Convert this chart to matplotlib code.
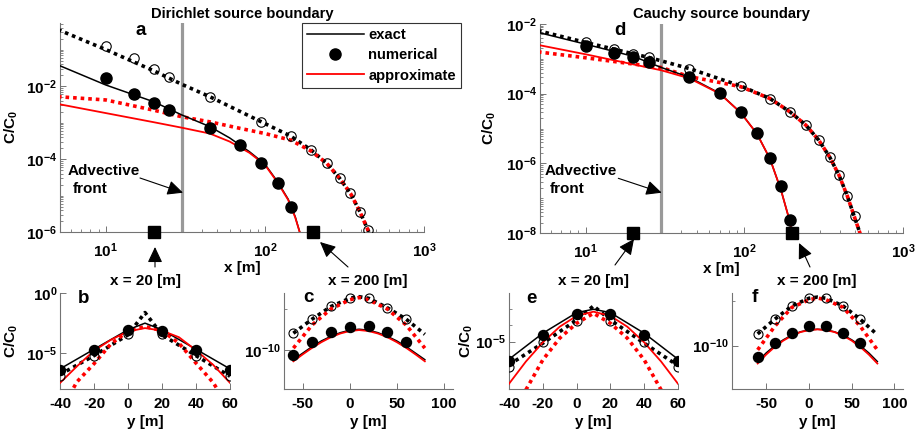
import matplotlib
matplotlib.use("Agg")
import matplotlib.pyplot as plt
import numpy as np
from matplotlib.lines import Line2D
from matplotlib.patches import FancyArrowPatch
from matplotlib.ticker import (FixedLocator, FuncFormatter, LogLocator,
                               NullFormatter, NullLocator)

plt.rcParams['font.family'] = ['Liberation Sans', 'DejaVu Sans']
plt.rcParams['font.weight'] = 'bold'
plt.rcParams['font.size'] = 11
plt.rcParams['axes.labelweight'] = 'bold'
plt.rcParams['axes.unicode_minus'] = False
plt.rcParams['mathtext.fontset'] = 'custom'
plt.rcParams['mathtext.rm'] = 'Liberation Sans:bold'
plt.rcParams['mathtext.bf'] = 'Liberation Sans:bold'
plt.rcParams['mathtext.it'] = 'Liberation Sans:bold'

# ---- data (concentrations stored as log10 values) ----
# panel a: Dirichlet source, along x
a_x_line = [5, 10, 20, 30, 45, 60, 80, 100, 120, 140, 155, 168]
a_exact = [-1.42, -1.97, -2.43, -2.79, -3.11, -3.42, -3.80, -4.14, -4.62, -5.10, -5.58, -6.10]
a_approx = [-2.49, -2.74, -2.99, -3.14, -3.30, -3.52, -3.83, -4.16, -4.64, -5.12, -5.60, -6.10]
a_x_dot = [5, 10, 20, 30, 45, 95, 145, 195, 245, 295, 345, 395, 450]
a_exact_dot = [-0.45, -1.00, -1.58, -1.95, -2.29, -2.98, -3.37, -3.75, -4.12, -4.53, -4.94, -5.44, -6.00]
a_x_rdot = [5, 10, 20, 30, 45, 70, 100, 145, 195, 245, 295, 345, 395, 450]
a_approx_dot = [-2.29, -2.38, -2.66, -2.84, -2.98, -3.16, -3.30, -3.48, -3.78, -4.12, -4.53, -4.94, -5.44, -6.00]
a_x_num = [10, 15, 20, 25, 45, 70, 95, 120, 145]
a_num = [-1.77, -2.22, -2.47, -2.66, -3.16, -3.62, -4.12, -4.67, -5.32]
a_x_num_o = [10, 15, 20, 25, 45, 95, 145, 195, 245, 295, 345, 395, 445]
a_num_o = [-0.90, -1.24, -1.53, -1.75, -2.29, -2.98, -3.37, -3.75, -4.12, -4.53, -4.94, -5.44, -5.95]

# panel d: Cauchy source, along x
d_x_line = [5, 10, 20, 30, 45, 70, 95, 120, 145, 170, 190, 200]
d_exact = [-2.24, -2.58, -2.93, -3.25, -3.53, -3.99, -4.55, -5.15, -5.87, -6.76, -7.54, -8.00]
d_approx = [-2.60, -2.87, -3.16, -3.33, -3.56, -4.00, -4.55, -5.15, -5.87, -6.76, -7.54, -8.00]
d_x_dot = [5, 10, 15, 20, 25, 45, 95, 145, 195, 245, 295, 345, 395, 445, 495, 540]
d_exact_dot = [-2.19, -2.53, -2.72, -2.86, -2.96, -3.28, -3.78, -4.14, -4.53, -4.91, -5.34, -5.82, -6.34, -6.93, -7.55, -8.05]
d_x_rdot = [5, 10, 20, 30, 45, 70, 95, 145, 195, 245, 295, 345, 395, 445, 495, 540]
d_approx_dot = [-2.80, -2.97, -3.15, -3.25, -3.51, -3.68, -3.80, -4.14, -4.53, -4.91, -5.34, -5.82, -6.34, -6.93, -7.55, -8.05]
d_x_num = [10, 15, 20, 25, 45, 70, 95, 120, 145, 170, 195]
d_num = [-2.62, -2.82, -2.96, -3.08, -3.51, -3.99, -4.52, -5.12, -5.84, -6.66, -7.62]
d_x_num_o = [10, 15, 20, 25, 45, 95, 145, 195, 245, 295, 345, 395, 445, 495]
d_num_o = [-2.53, -2.72, -2.86, -2.96, -3.28, -3.78, -4.14, -4.53, -4.91, -5.34, -5.82, -6.34, -6.93, -7.52]

# panels b, e: transverse profiles at x = 20 m
y_near = [-40, -20, 0, 10, 20, 40, 60]
y_near_s = [-40, -30, -20, -10, 0, 10, 20, 30, 40, 50, 60]
y_near_num = [-40, -20, 0, 20, 40, 60]
y_near_rdot = [-32, -30, -20, -10, 0, 10, 20, 30, 40, 50, 52]
b_exact = [-6.33, -4.70, -3.08, -2.53, -3.08, -4.70, -6.33]
b_exact_dot = [-6.80, -5.23, -3.50, -1.65, -3.50, -5.23, -6.94]
b_approx = [-7.50, -6.11, -4.82, -3.91, -3.22, -2.94, -3.15, -3.70, -4.78, -5.98, -7.49]
b_approx_dot = [-7.90, -7.40, -5.90, -4.25, -3.20, -2.81, -3.15, -4.20, -5.85, -7.45, -7.90]
b_num = [-6.39, -4.79, -3.08, -3.22, -4.79, -6.39]
b_num_o = [-6.94, -5.29, -3.41, -3.41, -5.29, -6.94]

y_near_rdot_e = [-30, -20, -10, 0, 10, 20, 30, 40, 50]
e_exact = [-6.08, -4.49, -3.23, -3.02, -3.23, -4.49, -6.08]
e_exact_dot = [-6.42, -5.10, -3.68, -2.82, -3.68, -5.10, -6.47]
e_approx = [-7.58, -6.22, -5.05, -4.09, -3.43, -3.17, -3.43, -4.09, -5.05, -6.22, -7.58]
e_approx_dot = [-7.95, -6.12, -4.79, -3.88, -3.27, -3.88, -4.79, -6.12, -7.95]
e_num = [-6.16, -4.59, -3.31, -3.31, -4.59, -6.16]
e_num_o = [-6.56, -5.00, -3.72, -3.72, -5.00, -6.56]

# panels c, f: transverse profiles at x = 200 m
y_far = [-60, -50, -40, -30, -20, -10, 0, 10, 20, 30, 40, 50, 60, 70, 80]
y_far_dot = [-60, -40, -20, 0, 10, 20, 40, 60, 80]
y_far_num = [-60, -40, -20, 0, 20, 40, 60]
c_exact = [-11.20, -10.40, -9.60, -8.90, -8.35, -7.90, -7.60, -7.48, -7.60, -7.90, -8.35, -8.90, -9.60, -10.40, -11.20]
c_approx = [-11.40, -10.55, -9.75, -9.05, -8.45, -8.00, -7.70, -7.58, -7.70, -8.00, -8.45, -9.05, -9.75, -10.55, -11.40]
c_exact_dot = [-7.97, -6.24, -4.70, -3.69, -3.50, -3.69, -4.85, -6.24, -8.10]
c_approx_dot = [-9.79, -6.95, -5.00, -3.88, -3.60, -3.88, -5.00, -6.95, -9.79]
c_num = [-10.61, -8.99, -7.77, -7.16, -7.07, -7.77, -8.99]
c_num_o = [-7.97, -6.26, -4.63, -3.69, -3.69, -4.91, -6.22]

f_exact = [-11.78, -10.82, -10.02, -9.36, -8.84, -8.47, -8.25, -8.18, -8.25, -8.47, -8.84, -9.36, -10.02, -10.82, -11.78]
f_approx = [-12.00, -11.00, -10.15, -9.45, -8.90, -8.50, -8.28, -8.20, -8.28, -8.50, -8.90, -9.45, -10.15, -11.00, -12.00]
f_exact_dot = [-8.70, -7.07, -5.59, -4.73, -4.60, -4.73, -5.59, -7.07, -8.80]
f_approx_dot = [-10.48, -7.85, -5.75, -4.90, -4.70, -4.90, -5.75, -7.85, -10.48]
f_num = [-11.29, -9.73, -8.56, -7.81, -7.81, -8.56, -9.73]
f_num_o = [-8.70, -7.07, -5.59, -4.73, -4.73, -5.59, -7.07]

front_x = 30
profile_x = [20, 200]

W, H = 921, 434
GREY = '0.45'
YLABEL = r'C/C$_\mathbf{0}$'
FS = 11


def rect(l, t, r, b):
    return [l / W, 1 - b / H, (r - l) / W, (b - t) / H]


def fxy(x, y):
    return (x / W, 1 - y / H)


def p10(v):
    return 10.0 ** np.asarray(v)


def pow_label(v, pos):
    return r'$\mathbf{10^{%d}}$' % int(round(np.log10(v)))


def style_axes(ax):
    for s in ['top', 'right']:
        ax.spines[s].set_visible(False)
    for s in ['left', 'bottom']:
        ax.spines[s].set_color(GREY)
        ax.spines[s].set_linewidth(0.8)
    ax.tick_params(which='both', direction='in', colors=GREY,
                   labelcolor='k', labelsize=FS)
    ax.tick_params(which='major', length=4, width=0.7)
    ax.tick_params(which='minor', length=2.2, width=0.6)
    ax.tick_params(axis='y', pad=2)


def dotted(ax, x, y, color, z=3):
    ax.plot(x, p10(y), color=color, lw=2.6, linestyle=(0, (1, 1.1)),
            dash_capstyle='butt', zorder=z)


def circles(ax, x, y, filled, ms):
    if filled:
        ax.plot(x, p10(y), 'o', color='k', ms=ms, zorder=5)
    else:
        ax.plot(x, p10(y), 'o', mfc='none', mec='k', mew=0.8, ms=ms, zorder=5)


def arrow(p0, p1, hl=0.95, hw=0.45):
    a = FancyArrowPatch(fxy(*p0), fxy(*p1), transform=fig.transFigure,
                        arrowstyle=f'-|>,head_length={hl},head_width={hw}',
                        mutation_scale=10, lw=0.8, color='k',
                        shrinkA=0, shrinkB=0)
    fig.add_artist(a)


fig = plt.figure(figsize=(W / 100, H / 100), dpi=100)

# ---------- main panels ----------
main = [
    (rect(60, 23, 424, 232), 'Dirichlet source boundary', (1e-6, 10 ** -0.27),
     a_x_line, a_exact, a_approx, a_x_dot, a_exact_dot, a_x_rdot, a_approx_dot,
     a_x_num, a_num, a_x_num_o, a_num_o, 3.4),
    (rect(540, 24, 903, 233), 'Cauchy source boundary', (1e-8, 1e-2),
     d_x_line, d_exact, d_approx, d_x_dot, d_exact_dot, d_x_rdot, d_approx_dot,
     d_x_num, d_num, d_x_num_o, d_num_o, 4.0),
]
main_axes = []
for (r, title, ylim, xl, ex, ap, xd, exd, xrd, apd, xn, num, xno, numo, tpad) in main:
    ax = fig.add_axes(r)
    style_axes(ax)
    ax.set_xscale('log')
    ax.set_yscale('log')
    ax.axvline(front_x, color='0.6', lw=2.3, zorder=2)
    dotted(ax, xd, exd, 'k', 3)
    dotted(ax, xrd, apd, 'r', 3.5)
    ax.plot(xl, p10(ex), color='k', lw=1.1, zorder=4)
    ax.plot(xl, p10(ap), color='r', lw=1.3, zorder=4)
    circles(ax, xn, num, True, 8)
    circles(ax, xno, numo, False, 6.8)
    ax.plot(profile_x, [ylim[0]] * 2, 's', color='k', ms=8.5, clip_on=False, zorder=10)
    ax.set_xlim(5.15, 1000)
    ax.set_ylim(*ylim)
    ax.xaxis.set_major_locator(FixedLocator([10, 100, 1000]))
    ax.xaxis.set_major_formatter(FuncFormatter(pow_label))
    ax.xaxis.set_minor_locator(LogLocator(base=10, subs=np.arange(2, 10)))
    ax.xaxis.set_minor_formatter(NullFormatter())
    ax.yaxis.set_major_locator(LogLocator(base=100, numticks=10))
    ax.yaxis.set_major_formatter(FuncFormatter(pow_label))
    ax.yaxis.set_minor_locator(LogLocator(base=10, subs=np.arange(1, 10), numticks=30))
    ax.yaxis.set_minor_formatter(NullFormatter())
    ax.tick_params(axis='x', pad=7)
    ax.set_xlabel('x [m]', fontsize=FS)
    ax.xaxis.set_label_coords(0.5, -0.14)
    ax.set_ylabel(YLABEL, fontsize=FS)
    ax.set_title(title, fontsize=10.6, fontweight='bold', pad=tpad)
    main_axes.append(ax)

main_axes[0].yaxis.set_label_coords(-0.11, 0.5)
main_axes[1].yaxis.set_label_coords(-0.116, 0.5)

# legend in panel a
handles = [Line2D([], [], color='k', lw=1.1),
           Line2D([], [], ls='none', marker='o', color='k', ms=8),
           Line2D([], [], color='r', lw=1.3)]
leg = main_axes[0].legend(handles, ['exact', 'numerical', 'approximate'],
                          loc='upper left', bbox_to_anchor=fxy(302, 23),
                          bbox_transform=fig.transFigure, borderaxespad=0,
                          handlelength=3.85, handletextpad=0.3, labelspacing=0.42,
                          borderpad=0.35, fancybox=False, framealpha=1,
                          fontsize=10.6)
leg.get_frame().set_edgecolor('0.2')
leg.get_frame().set_linewidth(0.8)
leg.set_zorder(20)

# ---------- profile panels ----------
prof = [
    (rect(60, 292.7, 230, 389), (-40, 60), (1e-8, 1), [-40, -20, 0, 20, 40, 60],
     [1e-5, 1], [], 'near', b_exact, b_exact_dot, b_approx, b_approx_dot, b_num, b_num_o,
     y_near_rdot, -0.235),
    (rect(284, 292.7, 453, 389), (-70, 110), (10 ** -14.79, 10 ** -3.01), [-50, 0, 50, 100],
     [1e-10], [1e-5], 'far', c_exact, c_exact_dot, c_approx, c_approx_dot, c_num, c_num_o,
     None, None),
    (rect(509, 292.7, 678, 389), (-40, 60), (10 ** -7.9, 10 ** -2.01), [-40, -20, 0, 20, 40, 60],
     [1e-5], [1e-4, 1e-3], 'near', e_exact, e_exact_dot, e_approx, e_approx_dot, e_num, e_num_o,
     y_near_rdot_e, -0.2),
    (rect(732, 292.7, 903, 389), (-90, 110), (10 ** -14.84, 10 ** -4.11), [-50, 0, 50, 100],
     [1e-10], [1e-5], 'far', f_exact, f_exact_dot, f_approx, f_approx_dot, f_num, f_num_o,
     None, None),
]
for (r, xlim, ylim, xt, yt, ymin, kind, ex, exd, ap, apd, num, numo, yrd, ylab) in prof:
    ax = fig.add_axes(r)
    style_axes(ax)
    ax.set_yscale('log')
    if kind == 'near':
        dotted(ax, y_near, exd, 'k', 3)
        dotted(ax, yrd, apd, 'r', 3.5)
        ax.plot(y_near, p10(ex), color='k', lw=1.1, zorder=4)
        ax.plot(y_near_s, p10(ap), color='r', lw=1.3, zorder=4)
        circles(ax, y_near_num, num, True, 7.2)
        circles(ax, y_near_num, numo, False, 6.5)
    else:
        dotted(ax, y_far_dot, exd, 'k', 3)
        dotted(ax, y_far_dot, apd, 'r', 3.5)
        ax.plot(y_far, p10(ex), color='k', lw=1.1, zorder=4)
        ax.plot(y_far, p10(ap), color='r', lw=1.3, zorder=4)
        circles(ax, y_far_num, num, True, 7.2)
        circles(ax, y_far_num, numo, False, 6.5)
    ax.set_xlim(*xlim)
    ax.set_ylim(*ylim)
    ax.set_xticks(xt)
    ax.yaxis.set_major_locator(FixedLocator(yt))
    ax.yaxis.set_major_formatter(FuncFormatter(pow_label))
    ax.yaxis.set_minor_locator(FixedLocator(ymin) if ymin else NullLocator())
    ax.yaxis.set_minor_formatter(NullFormatter())
    ax.tick_params(axis='x', pad=5.5)
    ax.set_xlabel('y [m]', fontsize=FS)
    ax.xaxis.set_label_coords(0.5, -0.27)
    if ylab is not None:
        ax.set_ylabel(YLABEL, fontsize=FS)
        ax.yaxis.set_label_coords(ylab, 0.5)

# ---------- panel letters ----------
for letter, (px, py) in zip('abcdef', [(141, 35), (84, 302.7), (308, 301.7),
                                        (620, 35), (531, 302.7), (755, 301.7)]):
    fig.text(*fxy(px, py), letter, fontsize=13.5, fontweight='bold',
             ha='center', va='baseline')

# ---------- annotations ----------
for x0 in [68, 545]:
    fig.text(*fxy(x0, 175), 'Advective', fontsize=FS, fontweight='bold', va='baseline')
    fig.text(*fxy(x0 + 5, 193), 'front', fontsize=FS, fontweight='bold', va='baseline')
arrow((140, 178), (183, 192.7))
arrow((618.3, 178.3), (661.7, 192.7))

for cx, label in [(145, 'x = 20 [m]'), (368, 'x = 200 [m]'),
                  (593, 'x = 20 [m]'), (817, 'x = 200 [m]')]:
    fig.text(*fxy(cx, 285), label, fontsize=FS, fontweight='bold',
             ha='center', va='baseline')
arrow((155, 267), (155, 247))
arrow((348, 267), (320, 242))
arrow((615, 265), (634, 239))
arrow((810, 267), (799, 243))

fig.savefig('out.png', dpi=100)
